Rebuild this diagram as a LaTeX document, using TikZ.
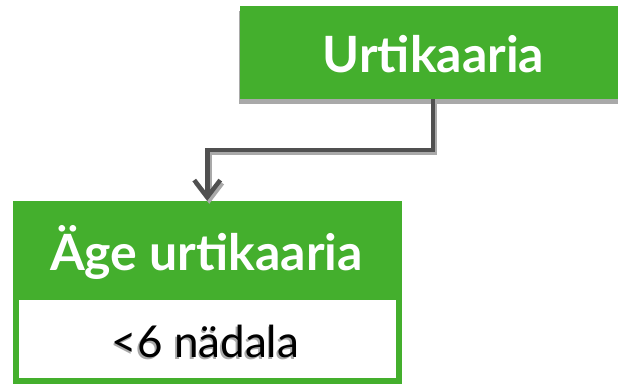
\documentclass[tikz,border=0pt]{standalone}
\usepackage{fontspec}
\setmainfont{Lato}
\usetikzlibrary{arrows.meta,calc,shadows}
\definecolor{grn}{HTML}{44AF2D}
\definecolor{lnk}{HTML}{505050}
\definecolor{shd}{HTML}{A9A9A9}
\newcommand{\shadowtext}[1]{\makebox[0pt][l]{\hspace{-1.5pt}\raisebox{-2pt}{\textcolor{shd}{#1}}}#1}
\tikzset{
  gbox/.style={fill=grn, draw=none, inner sep=0, rectangle},
  sbox/.style={fill=white, draw=grn, line width=6pt, inner sep=0, rectangle},
  ttl/.style={anchor=base, text=white, inner sep=0, font=\bfseries\fontsize{50}{60}\selectfont},
  sub/.style={anchor=base, inner sep=0, font=\fontsize{44}{52}\selectfont},
  conn/.style={line width=4.5pt, draw=lnk, -{Straight Barb[length=17pt,width=26pt]}},
  connsh/.style={conn, draw=shd, transform canvas={xshift=2pt,yshift=-3pt}}
}
\begin{document}
\begin{tikzpicture}[x=1pt,y=-1pt]
\clip (0,0) rectangle (618,385);
\fill[white] (0,0) rectangle (618,385);
% top box
\node[gbox, minimum width=386pt, minimum height=93pt,
  drop shadow={shadow xshift=-1pt, shadow yshift=-5pt, fill=shd, opacity=1}] (top) at (433,52.5) {};
\node[ttl] (t1) at (433.5,73) {Urtikaaria};
% bottom box
\node[sbox, minimum width=383.5pt, minimum height=84pt] (sec) at (207.25,339) {};
\fill[shd] ($(sec.north west)+(3,0)$) rectangle ($(sec.north east)+(-3,3)$);
\node[gbox, minimum width=389.5pt, minimum height=96pt] (hdr) at (207.25,249) {};
\node[ttl] (t2) at (206.5,270) {Äge urtikaaria};
\node[sub, text=black] (t3) at (205.5,357) {\shadowtext{<6 nädala}};
% connector
\coordinate (bend) at ($(top.south)+(0,51)$);
\draw[connsh] (top.south) -- (bend) -| (hdr.north);
\draw[conn] (top.south) -- (bend) -| (hdr.north);
\end{tikzpicture}
\end{document}
